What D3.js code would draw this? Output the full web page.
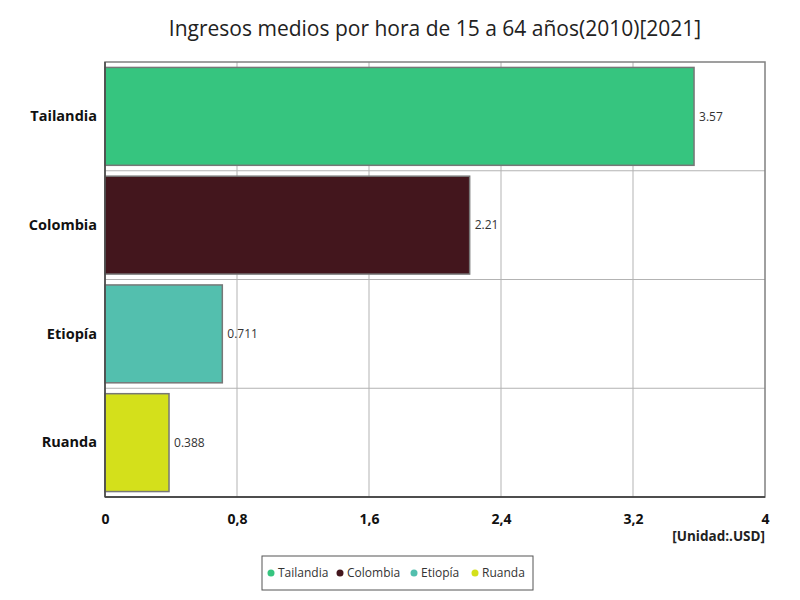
<!DOCTYPE html>
<html>
<head>
<meta charset="utf-8">
<script src="https://cdn.jsdelivr.net/npm/d3@7"></script>
<style>
  body { margin: 0; background: #fff; }
  text { font-family: "Open Sans", sans-serif; }
</style>
</head>
<body>
<div id="vis"></div>
<script>
// data
let countries = ["Tailandia", "Colombia", "Etiopía", "Ruanda"]
let values = [3.57, 2.21, 0.711, 0.388]
let valueLabels = ["3.57", "2.21", "0.711", "0.388"]
let colors = ["#36c57f", "#43161d", "#53bfae", "#d4e01b"]
let xTicks = [0, 0.8, 1.6, 2.4, 3.2, 4]
let xTickLabels = ["0", "0,8", "1,6", "2,4", "3,2", "4"]

let svgWidth = 800
let svgHeight = 600
let margin = { left: 105, right: 35, top: 62, bottom: 103 }
let width = svgWidth - margin.left - margin.right
let height = svgHeight - margin.top - margin.bottom

let root = d3.select('#vis')
    .append('svg')
    .attr('width', svgWidth)
    .attr('height', svgHeight)

root.append('text')
    .attr('x', 435)
    .attr('y', 36)
    .attr('text-anchor', 'middle')
    .attr('font-size', 21)
    .attr('fill', '#222')
    .text('Ingresos medios por hora de 15 a 64 años(2010)[2021]')

let svg = root.append('g')
    .attr('transform', `translate(${margin.left},${margin.top})`)

// scales
let xScale = d3.scaleLinear().domain([0, 4]).range([0, width])
let yScale = d3.scaleBand().domain(countries).range([0, height]).paddingInner(0.1).paddingOuter(0.05)

// grid
svg.selectAll('.vgrid')
    .data(xTicks.slice(1, -1))
    .join('line')
    .attr('x1', d => xScale(d)).attr('x2', d => xScale(d))
    .attr('y1', 0).attr('y2', height)
    .attr('stroke', '#b3b3b3')

let step = yScale.step()
svg.selectAll('.hgrid')
    .data(countries.slice(1))
    .join('line')
    .attr('x1', 0).attr('x2', width)
    .attr('y1', d => yScale(d) - step * yScale.paddingInner() / 2)
    .attr('y2', d => yScale(d) - step * yScale.paddingInner() / 2)
    .attr('stroke', '#b3b3b3')

// frame
svg.append('rect')
    .attr('width', width).attr('height', height)
    .attr('fill', 'none').attr('stroke', '#808080').attr('stroke-width', 1.5)

// bars
svg.selectAll('.bar')
    .data(countries)
    .join('rect')
    .attr('x', 0)
    .attr('y', d => yScale(d))
    .attr('width', (d, i) => xScale(values[i]))
    .attr('height', yScale.bandwidth())
    .attr('fill', (d, i) => colors[i])
    .attr('stroke', '#777')
    .attr('stroke-width', 1.5)

svg.selectAll('.val')
    .data(countries)
    .join('text')
    .attr('x', (d, i) => xScale(values[i]) + 5)
    .attr('y', d => yScale(d) + yScale.bandwidth() / 2)
    .attr('dy', '0.35em')
    .attr('font-size', 12)
    .attr('fill', '#333')
    .text((d, i) => valueLabels[i])

// axes lines
svg.append('line').attr('x1', 0).attr('x2', width).attr('y1', height).attr('y2', height)
    .attr('stroke', '#333').attr('stroke-width', 1.5)
svg.append('line').attr('x1', 0).attr('x2', 0).attr('y1', 0).attr('y2', height)
    .attr('stroke', '#444').attr('stroke-width', 1.5)

let xAxis = d3.axisBottom(xScale)
    .tickValues(xTicks)
    .tickFormat((d, i) => xTickLabels[i])
    .tickSize(0)
    .tickPadding(17)
let gx = svg.append('g').attr('transform', `translate(0,${height})`).call(xAxis)
gx.select('.domain').remove()
gx.selectAll('text').attr('font-size', 14).attr('font-weight', 'bold').attr('fill', '#111')
    .style('font-family', '"Open Sans", sans-serif')

let yAxis = d3.axisLeft(yScale).tickSize(0).tickPadding(8)
let gy = svg.append('g').call(yAxis)
gy.select('.domain').remove()
gy.selectAll('text').attr('font-size', 14.5).attr('font-weight', 'bold').attr('fill', '#111')
    .style('font-family', '"Open Sans", sans-serif')

root.append('text')
    .attr('x', 765).attr('y', 541)
    .attr('text-anchor', 'end')
    .attr('font-size', 13.5).attr('font-weight', 'bold').attr('fill', '#222')
    .text('[Unidad:.USD]')

// legend
let legend = root.append('g').attr('transform', 'translate(262,556)')
legend.append('rect').attr('width', 271).attr('height', 34)
    .attr('fill', '#fff').attr('stroke', '#555').attr('stroke-width', 1)
let legendX = [9, 78, 152, 213]
let items = legend.selectAll('.item')
    .data(countries)
    .join('g')
    .attr('transform', (d, i) => `translate(${legendX[i]},17)`)
items.append('circle').attr('r', 3.5).attr('fill', (d, i) => colors[i])
items.append('text').attr('x', 7).attr('dy', '0.35em')
    .attr('font-size', 12).attr('fill', '#333').text(d => d)
</script>
</body>
</html>
